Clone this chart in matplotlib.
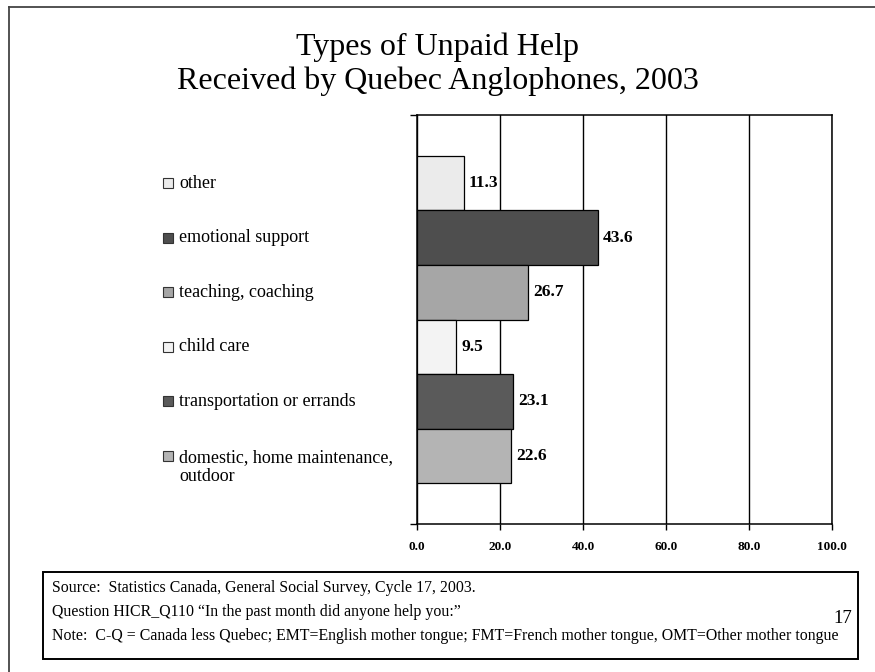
import matplotlib
matplotlib.use("Agg")
import matplotlib.pyplot as plt
import matplotlib.transforms as mtransforms
from matplotlib.lines import Line2D
from matplotlib.patches import Rectangle

plt.rcParams['font.family'] = ['Liberation Serif', 'DejaVu Serif']

# Data (top to bottom as shown)
categories = ["other", "emotional support", "teaching, coaching", "child care",
              "transportation or errands", "domestic, home maintenance,\noutdoor"]
values = [11.3, 43.6, 26.7, 9.5, 23.1, 22.6]
colors = ["#ebebeb", "#4e4e4e", "#a6a6a6", "#f3f3f3", "#5a5a5a", "#b4b4b4"]
xticks = [0, 20, 40, 60, 80, 100]
xtick_labels = ["0.0", "20.0", "40.0", "60.0", "80.0", "100.0"]

title = "Types of Unpaid Help\nReceived by Quebec Anglophones, 2003"
footer = ["Source:  Statistics Canada, General Social Survey, Cycle 17, 2003.",
          "Question HICR_Q110 \u201cIn the past month did anyone help you:\u201d",
          "Note:  C-Q = Canada less Quebec; EMT=English mother tongue; FMT=French mother tongue, OMT=Other mother tongue"]

fig = plt.figure(figsize=(8.75, 6.72), dpi=100)
ax = fig.add_axes([0.4766, 0.2202, 0.4743, 0.6086])

n = len(categories)
ypos = [n - 1 - i for i in range(n)]
ax.barh(ypos, values, height=1.0, color=colors, edgecolor="black", linewidth=0.9, zorder=3)

for y, v in zip(ypos, values):
    ax.text(v + 1.2, y, f"{v:.1f}", va="center", ha="left", fontsize=12.5,
            fontweight="bold", zorder=4)

ax.set_xlim(0, 100)
ax.set_ylim(-1.25, n - 1 + 1.25)
ax.set_xticks(xticks)
ax.set_xticklabels(xtick_labels, fontsize=9.5, fontweight="bold")
ax.tick_params(axis="x", direction="out", length=4, width=1, pad=8)
ax.set_yticks([-1.25, n - 1 + 1.25])
ax.set_yticklabels([])
ax.tick_params(axis="y", direction="out", length=5, width=1)
ax.grid(axis="x", color="black", linewidth=1, zorder=1)
for s in ax.spines.values():
    s.set_linewidth(1.1)
    s.set_color("black")

# Legend aligned with bars (x in figure coords, y in data coords)
trans = mtransforms.blended_transform_factory(fig.transFigure, ax.transData)
for y, c, lab in zip(ypos, colors, categories):
    ax.plot([0.1925], [y], marker="s", markersize=7.5, markerfacecolor=c,
            markeredgecolor="#333333", markeredgewidth=0.8, transform=trans,
            clip_on=False, linestyle="none")
    if "\n" in lab:
        ax.text(0.2045, y - 0.21, lab, transform=trans, va="center", ha="left",
                fontsize=13, linespacing=1.15)
    else:
        ax.text(0.2045, y, lab, transform=trans, va="center", ha="left", fontsize=13)

# Title
fig.text(0.5, 0.904, title, ha="center", va="center", fontsize=23, linespacing=1.22)

# Footer box
fig.add_artist(Rectangle((0.049, 0.019), 0.931, 0.130, transform=fig.transFigure,
                         fill=False, edgecolor="black", linewidth=1.4))
fy = [0.125, 0.090, 0.053]
for t, y in zip(footer, fy):
    fig.text(0.059, y, t, ha="left", va="center", fontsize=11.4)
fig.text(0.963, 0.080, "17", ha="center", va="center", fontsize=13.5)

# Outer page border
fig.add_artist(Line2D([0.0103, 0.0103], [0.0, 0.9896], transform=fig.transFigure,
                      color="#444444", linewidth=1.3))
fig.add_artist(Line2D([0.0103, 1.0], [0.9896, 0.9896], transform=fig.transFigure,
                      color="#444444", linewidth=1.3))

fig.savefig("out.png", dpi=100)
